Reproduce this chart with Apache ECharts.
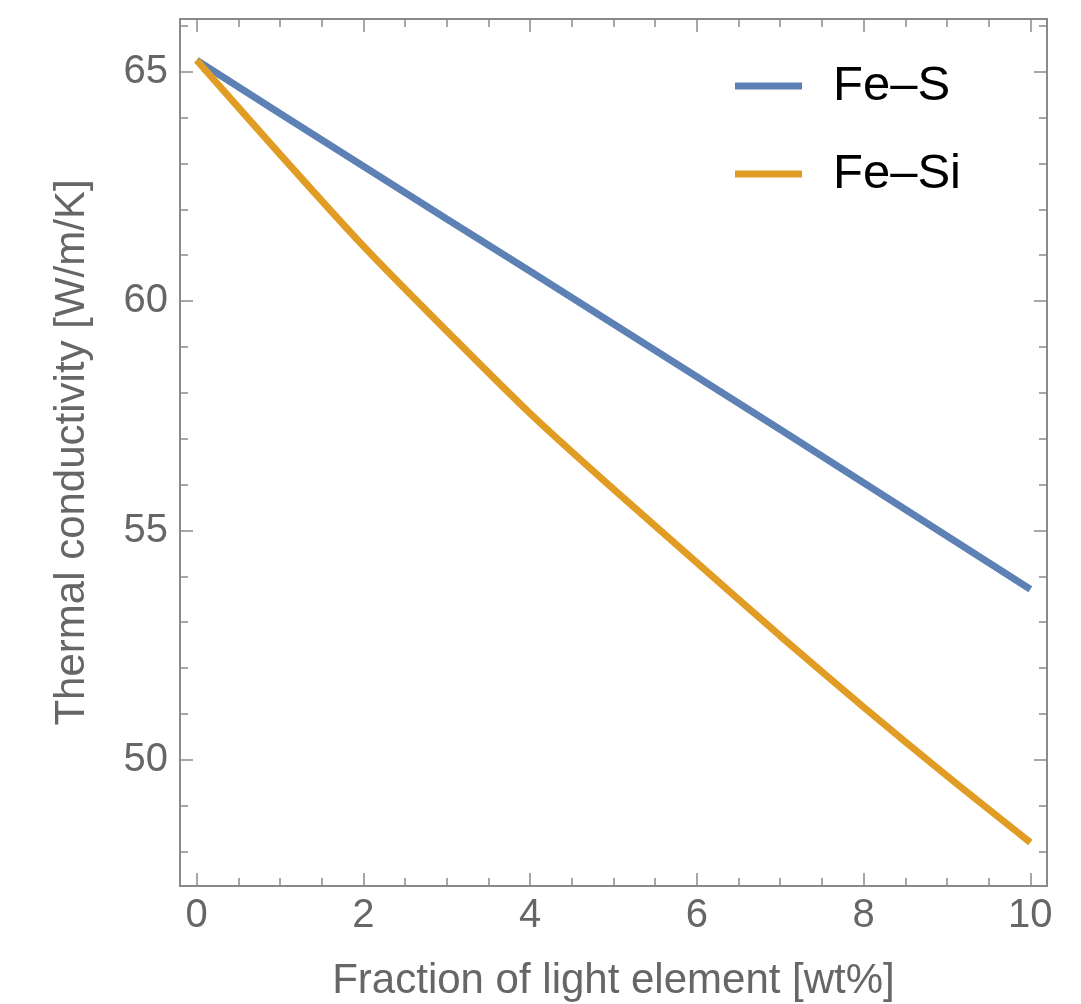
<!DOCTYPE html>
<html>
<head>
<meta charset="utf-8">
<script src="https://cdn.jsdelivr.net/npm/echarts@6/dist/echarts.min.js"></script>
<style>
  html, body { margin: 0; padding: 0; background: #fff; }
  #chart { width: 1081px; height: 1004px; }
</style>
</head>
<body>
<div id="chart"></div>
<script>
// values (thermal conductivity vs. wt% light element)
const fraction = [0, 1, 2, 3, 4, 5, 6, 7, 8, 9, 10];
const feS  = [65.25, 64.09, 62.94, 61.79, 60.65, 59.50, 58.35, 57.20, 56.04, 54.88, 53.72];
const feSi = [65.25, 63.20, 61.20, 59.35, 57.55, 55.90, 54.30, 52.70, 51.15, 49.65, 48.20];
const seriesNames = ['Fe\u2013S', 'Fe\u2013Si'];

// ticks
const xMajor = [0, 2, 4, 6, 8, 10];
const xMinor = [0.5, 1, 1.5, 2.5, 3, 3.5, 4.5, 5, 5.5, 6.5, 7, 7.5, 8.5, 9, 9.5];
const yMajor = [50, 55, 60, 65];
const yMinor = [48, 49, 51, 52, 53, 54, 56, 57, 58, 59, 61, 62, 63, 64, 66];

const FONT = "'Liberation Sans', Arial, sans-serif";
const FRAME = '#8a8a8a';
const X_RANGE = { min: -0.2, max: 10.2 };
const Y_RANGE = { min: 47.25, max: 66.15 };

const pair = (xs, ys) => xs.map((x, i) => [x, ys[i]]);

// one frame edge: either major ticks (+ optional labels) or minor ticks only
function frameAxis(range, position, ticks, len, withLabels, extra = {}) {
  return Object.assign({
    type: 'value',
    position,
    min: range.min,
    max: range.max,
    axisLine: { show: true, onZero: false, lineStyle: { color: FRAME, width: 1.8 } },
    axisTick: { show: true, inside: true, length: len, customValues: ticks, lineStyle: { color: FRAME, width: 1.5 } },
    axisLabel: withLabels
      ? { show: true, customValues: ticks, color: '#666', fontSize: 40, fontFamily: FONT }
      : { show: false },
    splitLine: { show: false },
    minorTick: { show: false }
  }, extra);
}

const chart = echarts.init(document.getElementById('chart'), null, { renderer: 'canvas' });
chart.setOption({
  backgroundColor: '#fff',
  animation: false,
  grid: { left: 180, right: 34, top: 19, bottom: 118, containLabel: false, outerBoundsMode: 'none' },
  legend: {
    orient: 'vertical',
    left: 735,
    top: 61,
    padding: 0,
    itemGap: 38,
    itemWidth: 67,
    itemHeight: 7,
    icon: 'rect',
    selectedMode: false,
    data: seriesNames,
    textStyle: { color: '#000', fontSize: 49, lineHeight: 50, fontFamily: FONT, padding: [0, 0, 0, 26] }
  },
  xAxis: [
    frameAxis(X_RANGE, 'bottom', xMajor, 13, true, {
      name: 'Fraction of light element [wt%]',
      nameLocation: 'middle',
      nameGap: 74,
      nameTextStyle: { color: '#666', fontSize: 42, fontFamily: FONT },
      axisLabel: { show: true, customValues: xMajor, color: '#666', fontSize: 40, fontFamily: FONT, margin: 10 }
    }),
    frameAxis(X_RANGE, 'bottom', xMinor, 8, false),
    frameAxis(X_RANGE, 'top', xMajor, 13, false),
    frameAxis(X_RANGE, 'top', xMinor, 8, false)
  ],
  yAxis: [
    frameAxis(Y_RANGE, 'left', yMajor, 13, true, {
      name: 'Thermal conductivity [W/m/K]',
      nameLocation: 'middle',
      nameGap: 87,
      nameTextStyle: { color: '#666', fontSize: 42, fontFamily: FONT },
      axisLabel: { show: true, customValues: yMajor, color: '#666', fontSize: 40, fontFamily: FONT, margin: 12 }
    }),
    frameAxis(Y_RANGE, 'left', yMinor, 8, false),
    frameAxis(Y_RANGE, 'right', yMajor, 13, false),
    frameAxis(Y_RANGE, 'right', yMinor, 8, false)
  ],
  series: [
    {
      name: seriesNames[0],
      type: 'line',
      data: pair(fraction, feS),
      showSymbol: false,
      color: '#5e81b5',
      lineStyle: { width: 7, color: '#5e81b5' }
    },
    {
      name: seriesNames[1],
      type: 'line',
      data: pair(fraction, feSi),
      showSymbol: false,
      smooth: 0.3,
      color: '#e19c24',
      lineStyle: { width: 7, color: '#e19c24' }
    }
  ]
});
</script>
</body>
</html>
